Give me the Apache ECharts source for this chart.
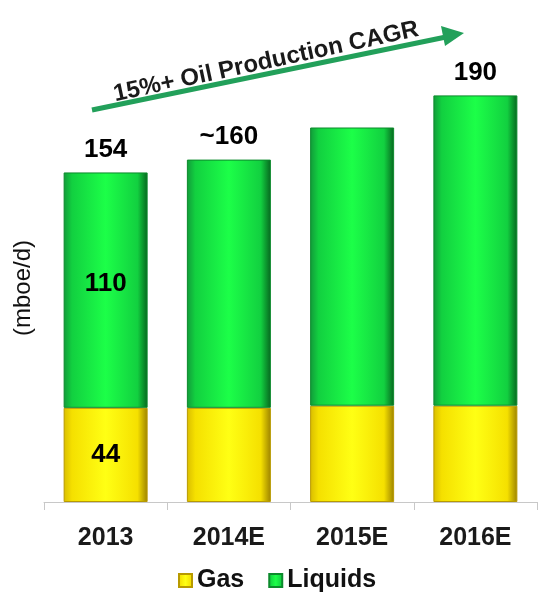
<!DOCTYPE html>
<html>
<head>
<meta charset="utf-8">
<script src="https://cdn.jsdelivr.net/npm/echarts@6/dist/echarts.min.js"></script>
<style>
  html, body { margin: 0; padding: 0; background: #ffffff; }
  #chart { width: 543px; height: 592px; }
</style>
</head>
<body>
<div id="chart"></div>
<script>
// Production by year, stacked gas + liquids (mboe/d)
const years = ['2013', '2014E', '2015E', '2016E'];
const gas = [44, 44, 45, 45];
const liquids = [110, 116, 130, 145];
const totalLabels = ['154', '~160', '', '190'];
const gasLabels = ['44', '', '', ''];
const liquidsLabels = ['110', '', '', ''];

// zero-height cap on each stack, used only to carry the total label
const capValues = years.map(() => 0);

const FONT = '"Liberation Sans", Arial, sans-serif';

function barGradient(edge, mid, center, darkEdge) {
  return new echarts.graphic.LinearGradient(0, 0, 1, 0, [
    { offset: 0, color: edge },
    { offset: 0.1, color: mid },
    { offset: 0.5, color: center },
    { offset: 0.88, color: mid },
    { offset: 1, color: darkEdge }
  ]);
}

const greenFill = barGradient('#129a3a', '#12d040', '#1cff48', '#07651f');
const yellowFill = barGradient('#d9bd00', '#f5e000', '#ffff14', '#9c8200');

const labelFont = { fontFamily: FONT, fontSize: 26, fontWeight: 'bold', color: '#000' };

const chart = echarts.init(document.getElementById('chart'), null, { renderer: 'canvas' });

chart.setOption({
  backgroundColor: '#ffffff',
  animation: false,
  grid: { left: 44, right: 6, top: 74, bottom: 90 },
  legend: {
    data: ['Gas', 'Liquids'],
    left: 173,
    top: 563,
    itemWidth: 13,
    itemHeight: 13,
    itemGap: 24,
    icon: 'rect',
    textStyle: { fontFamily: FONT, fontSize: 25, fontWeight: 'bold', color: '#111' }
  },
  xAxis: {
    type: 'category',
    data: years,
    axisLine: { lineStyle: { color: '#c8c8c8', width: 1 } },
    axisTick: { show: true, length: 8, lineStyle: { color: '#c8c8c8' } },
    axisLabel: { margin: 24, fontFamily: FONT, fontSize: 25, fontWeight: 'bold', color: '#1a1a1a' }
  },
  yAxis: {
    type: 'value',
    min: 0,
    max: 200,
    name: '(mboe/d)',
    nameLocation: 'middle',
    nameRotate: 90,
    nameGap: 9,
    nameTextStyle: { fontFamily: FONT, fontSize: 24, color: '#111' },
    axisLine: { show: false },
    axisTick: { show: false },
    axisLabel: { show: false },
    splitLine: { show: false }
  },
  series: [
    {
      name: 'Gas',
      type: 'bar',
      stack: 'prod',
      barWidth: 84,
      data: gas,
      itemStyle: { color: yellowFill, borderColor: '#b89a00', borderWidth: 1 },
      label: Object.assign({
        show: true,
        position: 'inside',
        formatter: p => gasLabels[p.dataIndex]
      }, labelFont)
    },
    {
      name: 'Liquids',
      type: 'bar',
      stack: 'prod',
      barWidth: 84,
      data: liquids,
      itemStyle: { color: greenFill, borderColor: '#0c8a2c', borderWidth: 1 },
      label: Object.assign({
        show: true,
        position: 'inside',
        offset: [0, -6],
        formatter: p => liquidsLabels[p.dataIndex]
      }, labelFont)
    },
    {
      name: 'Total',
      type: 'bar',
      stack: 'prod',
      barWidth: 84,
      data: capValues,
      silent: true,
      itemStyle: { color: 'transparent' },
      label: Object.assign({
        show: true,
        position: 'top',
        distance: 10,
        formatter: p => totalLabels[p.dataIndex]
      }, labelFont)
    }
  ],
  graphic: [
    {
      type: 'line',
      shape: { x1: 92, y1: 110, x2: 446, y2: 37 },
      style: { stroke: '#22a05a', lineWidth: 5 }
    },
    {
      type: 'polygon',
      shape: { points: [[464, 33], [441, 26], [445, 46]] },
      style: { fill: '#22a05a' }
    },
    {
      type: 'text',
      x: 266,
      y: 62,
      rotation: 0.212,
      style: {
        text: '15%+ Oil Production CAGR',
        fontFamily: FONT,
        fontSize: 24,
        fontWeight: 'bold',
        fill: '#1a1a1a',
        align: 'center',
        verticalAlign: 'middle'
      }
    }
  ]
});
</script>
</body>
</html>
